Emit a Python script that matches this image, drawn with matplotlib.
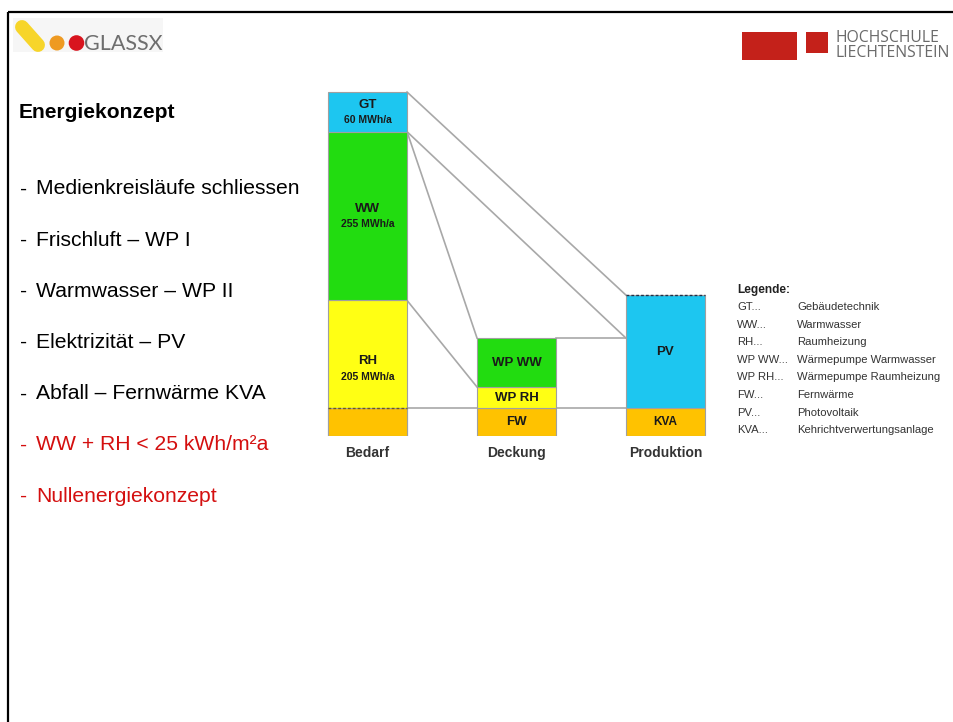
import matplotlib
matplotlib.use('Agg')
import matplotlib.pyplot as plt
from matplotlib.patches import Circle, Rectangle

# --- data (MWh/a) ---
categories = ['Bedarf', 'Deckung', 'Produktion']

bedarf_parts = ['RH', 'WW', 'GT']
bedarf_values = [205, 255, 60]
fw_share = 42          # part of RH covered by Fernwärme

deckung_parts = ['FW', 'WP RH', 'WP WW']
deckung_values = [42, 32, 74]

produktion_parts = ['KVA', 'PV']
produktion_values = [42, 171]

colors = {'GT': '#1dc6f0', 'WW': '#22dc10', 'RH': '#ffff14',
          'FW': '#ffc200', 'WP WW': '#22dc10', 'WP RH': '#ffff14',
          'KVA': '#ffc200', 'PV': '#1dc6f0'}

legend_abbr = ['GT...', 'WW...', 'RH...', 'WP WW...', 'WP RH...', 'FW...', 'PV...', 'KVA...']
legend_text = ['Gebäudetechnik', 'Warmwasser', 'Raumheizung', 'Wärmepumpe Warmwasser',
               'Wärmepumpe Raumheizung', 'Fernwärme', 'Photovoltaik',
               'Kehrichtverwertungsanlage']

bullets = ['Medienkreisläufe schliessen', 'Frischluft – WP I', 'Warmwasser – WP II',
           'Elektrizität – PV', 'Abfall – Fernwärme KVA',
           'WW + RH < 25 kWh/m²a', 'Nullenergiekonzept']
bullet_red = [False, False, False, False, False, True, True]

SANS = ['Liberation Sans', 'DejaVu Sans']

fig = plt.figure(figsize=(9.54, 7.22), dpi=100)

# background layer in pixel coordinates
bg = fig.add_axes([0, 0, 1, 1])
bg.set_xlim(0, 954)
bg.set_ylim(722, 0)
bg.axis('off')

# slide frame
bg.plot([8, 954], [12, 12], color='black', lw=1.6, solid_capstyle='butt')
bg.plot([8, 8], [12, 722], color='black', lw=1.6, solid_capstyle='butt')

# GLASSX logo
bg.add_patch(Rectangle((13, 18), 150, 34, color='#f6f6f6', lw=0))
bg.plot([22, 38], [27, 45], color='#f7d52a', lw=10, solid_capstyle='round')
bg.add_patch(Circle((57, 43), 7.5, color='#ee9a22', lw=0))
bg.add_patch(Circle((76.5, 43), 7.8, color='#d8141e', lw=0))
bg.text(84, 44, 'GLASSX', fontsize=15.5, color='#6e6e6e', family=['Lato', 'DejaVu Sans'],
        va='center', ha='left')

# Hochschule Liechtenstein logo
bg.add_patch(Rectangle((742, 32), 55, 28, color='#c4211a', lw=0))
bg.add_patch(Rectangle((806, 32), 22, 21, color='#c4211a', lw=0))
for y, t in [(38, 'HOCHSCHULE'), (53, 'LIECHTENSTEIN')]:
    bg.text(836, y, t, fontsize=11.3, color='#6a6a6a', family=['Open Sans', 'DejaVu Sans'],
            va='center', ha='left')

# title and bullets
bg.text(19, 112, 'Energiekonzept', fontsize=15.1, fontweight='bold', family=SANS,
        va='center', ha='left', color='black')
for i, (b, red) in enumerate(zip(bullets, bullet_red)):
    y = 189 + i * 51.2
    c = '#d40f0f' if red else 'black'
    bg.text(20, y, '-', fontsize=15.2, family=SANS, va='center', ha='left', color=c)
    bg.text(36, y, b, fontsize=15.2, family=SANS, va='center', ha='left', color=c)

# legend
bg.text(737, 290, 'Legende:', fontsize=8.6, fontweight='bold', family=SANS,
        va='center', ha='left', color='#222222')
for i, (a, t) in enumerate(zip(legend_abbr, legend_text)):
    y = 307 + i * 17.6
    bg.text(737, y, a, fontsize=8.1, family=SANS, va='center', ha='left', color='#333333')
    bg.text(797, y, t, fontsize=8.1, family=SANS, va='center', ha='left', color='#333333')

# --- chart ---
ax = fig.add_axes([308 / 954, (722 - 436) / 722, 417 / 954, 357.2 / 722])
ax.set_xlim(-0.4, 2.4)
ax.set_ylim(0, 540)
ax.patch.set_alpha(0)
for s in ax.spines.values():
    s.set_visible(False)
ax.set_yticks([])

w = 0.53
h = w / 2
edge = '#a0a0a0'
line_c = '#a8a8a8'


def stack(xpos, parts, values):
    bottom = 0
    tops = []
    for p, v in zip(parts, values):
        ax.bar(xpos, v, width=w, bottom=bottom, color=colors[p], edgecolor=edge, lw=0.8, zorder=2)
        bottom += v
        tops.append(bottom)
    return tops


b_tops = stack(0, bedarf_parts, bedarf_values)
# Fernwärme share at bottom of Bedarf
ax.bar(0, fw_share, width=w, color=colors['FW'], edgecolor=edge, lw=0.8, zorder=2)
ax.plot([-h, h], [fw_share, fw_share], color='#6b5a20', lw=1, ls=(0, (2, 1.5)), zorder=3)

d_tops = stack(1, deckung_parts, deckung_values)
p_tops = stack(2, produktion_parts, produktion_values)
ax.plot([2 - h, 2 + h], [p_tops[-1], p_tops[-1]], color='#203048', lw=1, ls=(0, (2, 1.5)), zorder=3)

# connecting lines
lines = [
    ((h, b_tops[2]), (2 - h, p_tops[-1])),
    ((h, b_tops[1]), (2 - h, d_tops[-1])),
    ((h, b_tops[1]), (1 - h, d_tops[-1])),
    ((h, b_tops[0]), (1 - h, d_tops[1])),
    ((1 + h, d_tops[-1]), (2 - h, d_tops[-1])),
    ((h, fw_share), (2 - h, fw_share)),
]
for (x0, y0), (x1, y1) in lines:
    ax.plot([x0, x1], [y0, y1], color=line_c, lw=1.2, zorder=1)

# bar labels
lab = dict(ha='center', va='center', family=SANS, fontweight='bold', color='#1a1a1a', zorder=4)
bottom = 0
for p, v in zip(bedarf_parts, bedarf_values):
    mid = bottom + v / 2
    ax.annotate(p, (0, mid), xytext=(0, 5), textcoords='offset points', fontsize=9.5, **lab)
    ax.annotate(f'{v} MWh/a', (0, mid), xytext=(0, -6), textcoords='offset points', fontsize=7.5, **lab)
    bottom += v
for xpos, parts, values in [(1, deckung_parts, deckung_values), (2, produktion_parts, produktion_values)]:
    bottom = 0
    for p, v in zip(parts, values):
        fs = 8.5 if p == 'KVA' else 9.5
        ax.text(xpos, bottom + v / 2, p, fontsize=fs, **lab)
        bottom += v

ax.set_xticks(range(len(categories)))
ax.set_xticklabels(categories, family=SANS, fontweight='bold', fontsize=10, color='#333333')
ax.tick_params(axis='x', length=0, pad=7)

fig.savefig('out.png', dpi=100)
